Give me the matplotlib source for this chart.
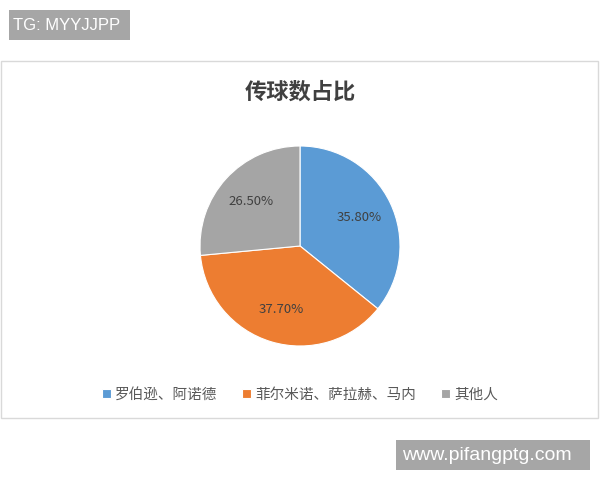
import matplotlib.pyplot as plt
from matplotlib.patches import Rectangle

plt.rcParams['font.family'] = ['Noto Sans CJK SC', 'DejaVu Sans']

labels = ['罗伯逊、阿诺德', '菲尔米诺、萨拉赫、马内', '其他人']
shares = [35.8, 37.7, 26.5]
colors = ['#5B9BD5', '#ED7D31', '#A5A5A5']

fig = plt.figure(figsize=(6, 4.8), dpi=100)

# chart frame
fig.patches.append(Rectangle((0.002, 1 - 418/480), 0.994, (418 - 61)/480,
                             transform=fig.transFigure, fill=False,
                             edgecolor='#D9D9D9', linewidth=1))

ax = fig.add_axes([1/3, 1 - 346/480, 1/3, 200/480])
wedges, texts, autotexts = ax.pie(shares, colors=colors, startangle=90, counterclock=False,
                                  autopct='%.2f%%', pctdistance=0.66,
                                  wedgeprops={'edgecolor': 'white', 'linewidth': 0.8},
                                  textprops={'fontsize': 9.5, 'color': '#404040'})
ax.set_xlim(-1, 1)
ax.set_ylim(-1, 1)
ax.set_aspect('equal')

fig.text(0.5, 1 - 92/480, '传球数占比', ha='center', va='center',
         fontsize=16, fontweight='bold', color='#404040')

fig.legend(wedges, labels, loc='center', bbox_to_anchor=(0.5, 1 - 395/480),
           ncol=3, frameon=False, fontsize=10.5, handlelength=0.6, handleheight=0.6,
           handletextpad=0.3, columnspacing=1.7, labelcolor='#595959')

# watermarks
fig.add_artist(Rectangle((9/600, 1 - 40/480), 121/600, 30/480, transform=fig.transFigure,
                         facecolor='#A6A6A6', edgecolor='none'))
fig.text(13/600, 1 - 25/480, 'TG: MYYJJPP', ha='left', va='center', fontsize=12,
         color='white', family='Liberation Sans')
fig.add_artist(Rectangle((396/600, 1 - 470/480), 194/600, 30/480, transform=fig.transFigure,
                         facecolor='#A6A6A6', edgecolor='none'))
fig.text(402/600, 1 - 455/480, 'www.pifangptg.com', ha='left', va='center', fontsize=14,
         color='white', family='Liberation Sans')

fig.savefig('out.png', dpi=100)
